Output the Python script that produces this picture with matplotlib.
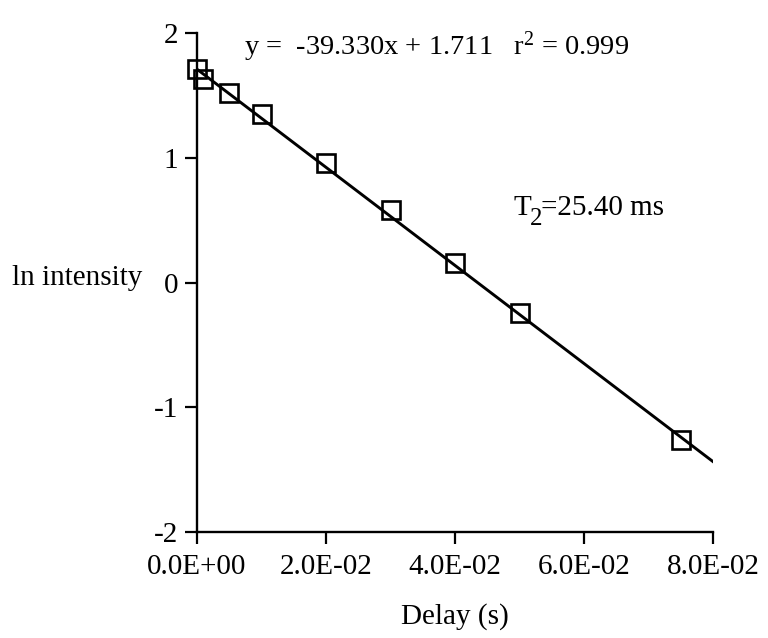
import matplotlib
matplotlib.use("Agg")
import matplotlib.pyplot as plt
from matplotlib.ticker import FuncFormatter

plt.rcParams['font.family'] = ['Liberation Serif', 'DejaVu Serif']
plt.rcParams['mathtext.fontset'] = 'custom'
plt.rcParams['mathtext.rm'] = 'Liberation Serif'
plt.rcParams['mathtext.it'] = 'Liberation Serif'

# measured points (delay in s, ln intensity)
delay = [0.0, 0.001, 0.005, 0.010, 0.020, 0.030, 0.040, 0.050, 0.075]
ln_intensity = [1.71, 1.63, 1.52, 1.35, 0.96, 0.58, 0.16, -0.24, -1.26]

# linear fit
slope = -39.330
intercept = 1.711
fit_x = [0.0, 0.08]

x_ticks = [0.0, 0.02, 0.04, 0.06, 0.08]
y_ticks = [-2, -1, 0, 1, 2]

fig = plt.figure(figsize=(7.68, 6.38), dpi=100)
ax = fig.add_axes([0.2565, 0.166, 0.672, 0.782])

ax.plot(fit_x, [slope * x + intercept for x in fit_x], color='black', lw=2.1, zorder=2)
ax.plot(delay, ln_intensity, linestyle='none', marker='s', markersize=12.5,
        markerfacecolor='none', markeredgecolor='black', markeredgewidth=1.9,
        clip_on=False, zorder=3)

ax.set_xlim(0, 0.08)
ax.set_ylim(-2, 2)
ax.set_xticks(x_ticks)
ax.set_yticks(y_ticks)

def sci_formatter(x, pos):
    return f'{x:.1E}'
ax.xaxis.set_major_formatter(FuncFormatter(sci_formatter))
ax.yaxis.set_major_formatter(FuncFormatter(lambda v, p: f'{v:.0f}'))

for side in ['top', 'right']:
    ax.spines[side].set_visible(False)
for side in ['left', 'bottom']:
    ax.spines[side].set_linewidth(1.7)
ax.tick_params(axis='both', direction='out', length=8.5, width=1.6, labelsize=21)
ax.tick_params(axis='x', pad=7)
ax.tick_params(axis='y', pad=5)

ax.text(0.0073, 1.83, 'y =  -39.330x + 1.711   r$^{2}$ = 0.999', fontsize=20.5,
        ha='left', va='baseline')

# T2 label with a large, lowered subscript
t_main = ax.text(0.049, 0.54, 'T', fontsize=21, ha='left', va='baseline')
t_sub = ax.annotate('2', xy=(1, 0), xycoords=t_main, xytext=(-1, -6),
                    textcoords='offset points', fontsize=18, ha='left', va='bottom')
ax.annotate('=25.40 ms', xy=(1, 0), xycoords=t_sub, xytext=(-1, 6),
            textcoords='offset points', fontsize=21, ha='left', va='bottom')

fig.text(12 / 768, 1 - 278 / 638, 'ln intensity', fontsize=21, ha='left', va='center')
ax.set_xlabel('Delay (s)', fontsize=21, labelpad=17)

fig.savefig('out.png', dpi=100)
